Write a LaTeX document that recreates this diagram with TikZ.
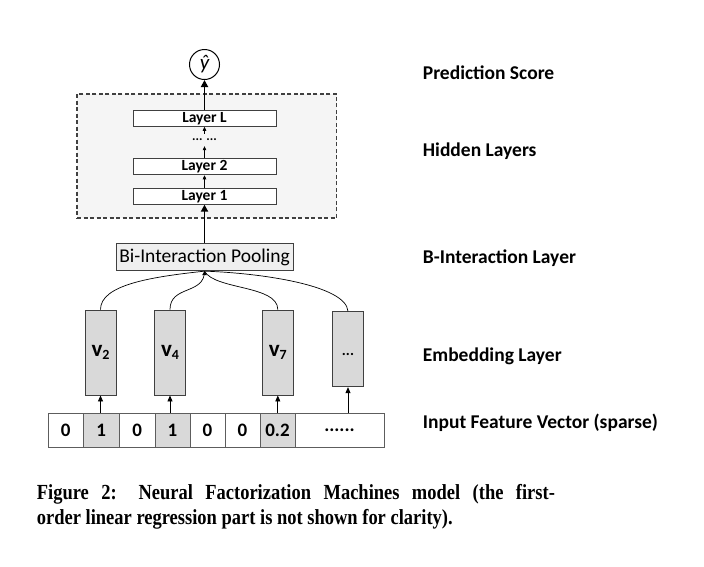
\documentclass[tikz,border=0pt]{standalone}
\usepackage{fontspec}
\setmainfont{Carlito}
\newfontfamily\capfont[FakeStretch=0.86]{Liberation Serif}
\usetikzlibrary{arrows.meta,calc}
\definecolor{cellgray}{HTML}{D9D9D9}
\definecolor{poolgray}{HTML}{EFEFEF}
\definecolor{boxgray}{HTML}{F5F5F5}
\definecolor{edge}{HTML}{404040}
\begin{document}
\begin{tikzpicture}[x=1pt,y=-1pt,
  lab/.style={font=\fontsize{19.5}{22}\selectfont\bfseries, anchor=base west, inner sep=0},
  layerbox/.style={draw=edge, fill=white, line width=0.9pt, minimum width=143pt, minimum height=16pt, inner sep=0, font=\fontsize{15.5}{16}\selectfont\bfseries},
  emb/.style={draw=edge, fill=cellgray, line width=0.9pt, minimum width=31pt, minimum height=85pt, inner sep=0, font=\fontsize{23}{24}\selectfont\bfseries},
  cell/.style={draw=edge!85, line width=0.9pt, minimum height=34pt, inner sep=0, font=\fontsize{19}{20}\selectfont\bfseries},
  graycell/.style={cell, fill=cellgray},
  thickarr/.style={line width=1.8pt, -{Triangle[length=7pt,width=7pt]}},
  thinarr/.style={line width=0.8pt, -{Triangle[length=6pt,width=5pt]}},
  tinyarr/.style={line width=0.6pt, -{Triangle[length=4pt,width=3.5pt]}},
  curve/.style={line width=0.7pt},
  capline/.style={anchor=base west, inner sep=0, font=\capfont\bfseries\fontsize{21.5}{25}\selectfont}
]
\useasboundingbox (0,0) rectangle (704,566);

% hidden layers dashed box
\node[draw=edge, dash pattern=on 4pt off 2.5pt, fill=boxgray, line width=1.3pt,
      minimum width=259.7pt, minimum height=124pt, inner sep=0] (hid) at (206.85,156) {};

% output
\node[circle, draw=black, line width=1pt, minimum size=30pt, inner sep=0,
      font=\fontsize{21}{22}\selectfont\itshape] (yhat) at (204.5,64.5) {ŷ};

% layers
\node[layerbox] (lL) at (204.5,118.3) {Layer L};
\node[font=\fontsize{13}{14}\selectfont\bfseries, inner sep=0, minimum height=12pt] (dots) at (204.5,140) {... ...};
\node[layerbox] (l2) at (204.5,166.8) {Layer 2};
\node[layerbox] (l1) at (204.5,196.2) {Layer 1};

% pooling
\node[draw=edge, fill=poolgray, line width=0.9pt, minimum width=177pt, minimum height=27.4pt,
      inner sep=0, font=\fontsize{19.5}{22}\selectfont] (pool) at (204.5,257) {Bi-Interaction Pooling};

% embeddings
\node[emb] (e2) at (100.5,352.5) {v\raisebox{-3.5pt}{\fontsize{14}{14}\selectfont 2}};
\node[emb] (e4) at (170,352.5) {v\raisebox{-3.5pt}{\fontsize{14}{14}\selectfont 4}};
\node[emb] (e7) at (277.8,352.5) {v\raisebox{-3.5pt}{\fontsize{14}{14}\selectfont 7}};
\node[emb, minimum height=75pt, font=\fontsize{15}{16}\selectfont\bfseries] (e8) at (348,349.2) {\smash{\raisebox{-6pt}{...}}};

% input vector
\node[cell, minimum width=35pt] (c1) at (65.8,430) {0};
\node[graycell, minimum width=36pt] (c2) at (101.3,430) {1};
\node[cell, minimum width=35.7pt] (c3) at (137.2,430) {0};
\node[graycell, minimum width=35pt] (c4) at (172.5,430) {1};
\node[cell, minimum width=35pt] (c5) at (207.5,430) {0};
\node[cell, minimum width=35pt] (c6) at (242.5,430) {0};
\node[graycell, minimum width=35pt] (c7) at (277.5,430) {0.2};
\node[cell, minimum width=89pt] (c8) at (339.5,430) {......};

% arrows
\draw[thickarr] (lL.north) -- (yhat.south);
\draw[thickarr] (pool.north) -- (l1.south);
\draw[tinyarr] (l1.north) -- (l2.south);
\draw[tinyarr] (l2.north) -- (dots.south);
\draw[tinyarr] (dots.north) -- (lL.south);

\draw[thinarr] (c2.north -| e2.south) -- (e2.south);
\draw[thinarr] (c4.north -| e4.south) -- (e4.south);
\draw[thinarr] (c7.north -| e7.south) -- (e7.south);
\draw[thinarr] (c8.north -| e8.south) -- (e8.south);

% interaction curves
\draw[curve] (e2.north) .. controls (100.5,285) and (150,277) .. (pool.south);
\draw[curve] (e4.north) .. controls (170,285) and (204.5,295) .. (pool.south);
\draw[curve] (e7.north) .. controls (277.8,285) and (215,290) .. (pool.south);
\draw[curve] (e8.north) .. controls (346,285) and (260,273) .. (pool.south);
\coordinate (jn) at ($(pool.south)+(0,3)$);
\draw[line width=0.6pt, -{Triangle[length=4pt,width=4.5pt]}] (jn) -- (pool.south);

% labels
\node[lab] (t1) at (422.7,79.3) {Prediction Score};
\node[lab] (t2) at (422.7,156) {Hidden Layers};
\node[lab] (t3) at (422.7,263.3) {B-Interaction Layer};
\node[lab] (t4) at (422.7,361.7) {Embedding Layer};
\node[lab] (t5) at (422.7,428.3) {Input Feature Vector (sparse)};

% caption
\node[capline] (cap1) at (36.7,499) {\makebox[518pt][s]{Figure 2: Neural Factorization Machines model (the first-}};
\node[capline] (cap2) at (36.7,524) {order linear regression part is not shown for clarity).};
\end{tikzpicture}
\end{document}
